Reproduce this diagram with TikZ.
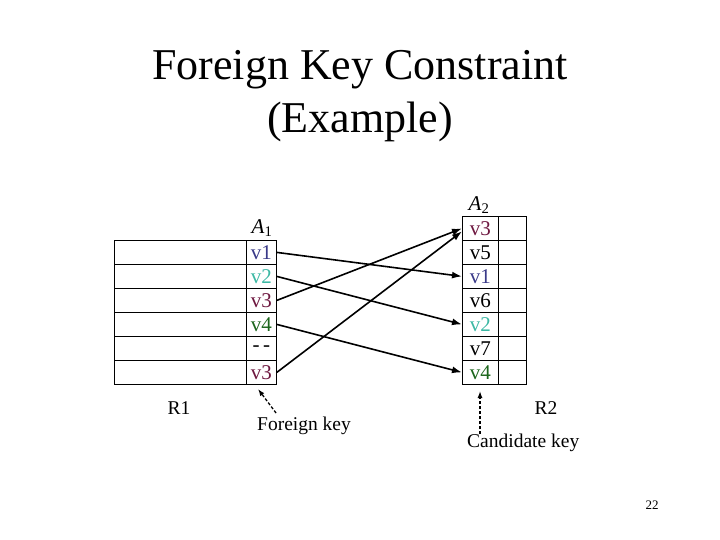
\documentclass[tikz,border=0pt]{standalone}
\usepackage{fontspec}
\setmainfont{Liberation Serif}
\usetikzlibrary{arrows.meta}
\definecolor{cvone}{HTML}{3A3A88}
\definecolor{cvtwo}{HTML}{3CB8A4}
\definecolor{cvthree}{HTML}{6E1840}
\definecolor{cvfour}{HTML}{1C661C}
\begin{document}
\begin{tikzpicture}[x=1pt,y=-1pt,
  cell/.style={draw, line width=0.8pt, minimum height=24pt, inner sep=0pt, anchor=north west, font=\fontsize{21}{21}\selectfont},
  wide/.style={cell, minimum width=132pt},
  acol/.style={cell, minimum width=30pt},
  bcol/.style={cell, minimum width=36pt},
  rest/.style={cell, minimum width=28pt},
  lbl/.style={inner sep=0pt, font=\fontsize{19.5}{19.5}\selectfont},
  attr/.style={inner sep=0pt, font=\fontsize{21}{21}\selectfont},
  link/.style={line width=1.6pt, -{Latex[length=10pt,width=7pt]}},
  hint/.style={line width=1.3pt, dash pattern=on 3pt off 2pt, -{Latex[length=7pt,width=5pt]}}]
\useasboundingbox (0,0) rectangle (720,540);
% title
\node[font=\fontsize{44}{44}\selectfont] (title) at (360,70) {Foreign Key Constraint};
\node[font=\fontsize{44}{44}\selectfont] (title2) at (360,122) {(Example)};
% R1
\node[wide] (r1w1) at (114,240) {};
\node[wide] (r1w2) at (114,264) {};
\node[wide] (r1w3) at (114,288) {};
\node[wide] (r1w4) at (114,312) {};
\node[wide] (r1w5) at (114,336) {};
\node[wide] (r1w6) at (114,360) {};
\node[acol, text=cvone] (a1) at (246,240) {v1};
\node[acol, text=cvtwo] (a2) at (246,264) {v2};
\node[acol, text=cvthree] (a3) at (246,288) {v3};
\node[acol, text=cvfour] (a4) at (246,312) {v4};
\node[acol] (a5) at (246,336) {-\,-};
\node[acol, text=cvthree] (a6) at (246,360) {v3};
\node[attr] (A1) at (262,228) {\textit{A}\textsubscript{1}};
% R2
\node[bcol, text=cvthree] (b1) at (462,216) {v3};
\node[bcol] (b2) at (462,240) {v5};
\node[bcol, text=cvone] (b3) at (462,264) {v1};
\node[bcol] (b4) at (462,288) {v6};
\node[bcol, text=cvtwo] (b5) at (462,312) {v2};
\node[bcol] (b6) at (462,336) {v7};
\node[bcol, text=cvfour] (b7) at (462,360) {v4};
\node[rest] (s1) at (498,216) {};
\node[rest] (s2) at (498,240) {};
\node[rest] (s3) at (498,264) {};
\node[rest] (s4) at (498,288) {};
\node[rest] (s5) at (498,312) {};
\node[rest] (s6) at (498,336) {};
\node[rest] (s7) at (498,360) {};
\node[attr] (A2) at (479,205) {\textit{A}\textsubscript{2}};
% links
\draw[link] (a1.east) -- (b3.west);
\draw[link] (a2.east) -- (b5.west);
\draw[link] (a3.east) -- (b1.west);
\draw[link] (a4.east) -- (b7.west);
\draw[link] (a6.east) -- ([yshift=-3pt]b1.west);
% labels
\node[lbl] (R1) at (179,408) {R1};
\node[lbl] (R2) at (546,408) {R2};
\node[lbl, anchor=west] (fk) at (257,426) {Foreign key};
\node[lbl, anchor=west] (ck) at (467,443) {Candidate key};
\coordinate (fkt) at (258,389);
\coordinate (ckt) at (480,391);
\draw[hint] (276,413) -- (fkt);
\draw[hint] (480,434) -- (ckt);
\node[font=\fontsize{13}{13}\selectfont] (pg) at (652,505) {22};
\end{tikzpicture}
\end{document}
